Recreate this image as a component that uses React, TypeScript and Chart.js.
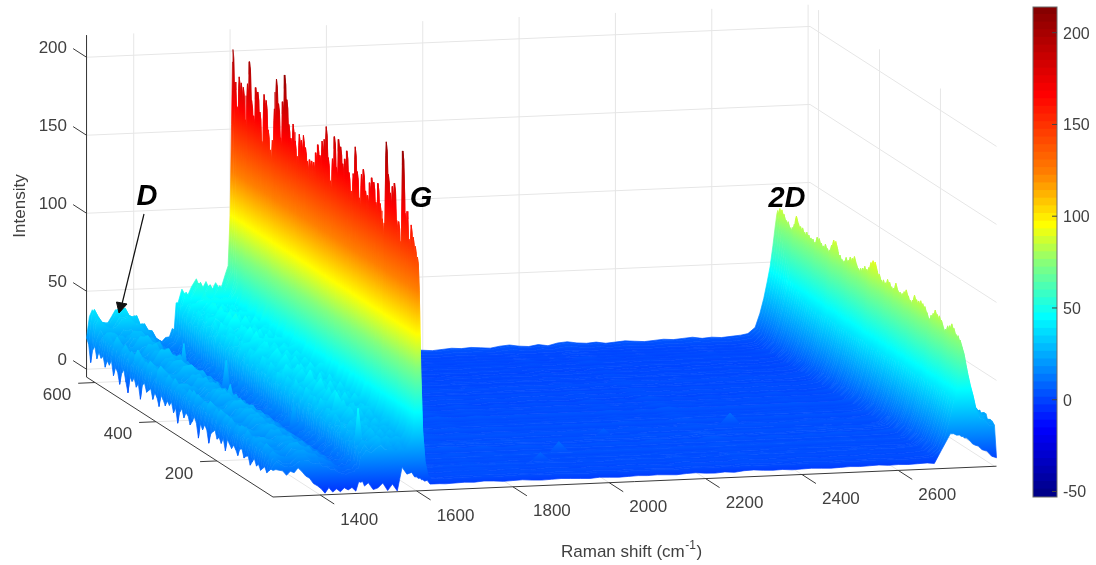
import React, { useEffect, useRef } from "react";
import { Chart, registerables } from "chart.js";

Chart.register(...registerables);

// ---- axis ticks -------------------------------------------------------
const SHIFT_TICKS = [1400, 1600, 1800, 2000, 2200, 2400, 2600];
const SHIFT_GRID_TICKS = [1400, 1600, 1800, 2000, 2200, 2400, 2600, 2800];
const DEPTH_TICKS = [200, 400, 600];
const Z_TICKS = [0, 50, 100, 150, 200];
const BAR_TICKS = [-50, 0, 50, 100, 150, 200];
const SHIFT_MIN = 1302, SHIFT_MAX = 2804, DEPTH_MIN = 16, DEPTH_MAX = 628, Z_MIN = -5, Z_MAX = 214;
const BAR_MIN = -53, BAR_MAX = 214;

// ---- Raman shift samples of every spectrum -----------------------------
const shifts = [
  1302, 1308, 1314, 1322, 1330, 1338, 1346, 1354, 1362, 1370, 1378, 1386, 1394, 1402, 1410, 1418, 1426, 1434, 1442, 1450, 1458, 1466, 1474, 1480, 1484,
  1488, 1492, 1500, 1510, 1520, 1530, 1540, 1550, 1560, 1570, 1580, 1590, 1596, 1600, 1603, 1605, 1606, 1608, 1610, 1613, 1617, 1622, 1628, 1636, 1648,
  1660, 1680, 1700, 1720, 1740, 1760, 1780, 1800, 1820, 1840, 1860, 1880, 1900, 1920, 1940, 1960, 1980, 2000, 2020, 2040, 2060, 2080, 2100, 2120, 2140,
  2160, 2180, 2200, 2220, 2240, 2260, 2280, 2300, 2320, 2340, 2360, 2380, 2400, 2420, 2440, 2460, 2480, 2500, 2520, 2540, 2560, 2580, 2600, 2620, 2640, 2660,
  2675, 2690, 2700, 2708, 2715, 2721, 2727, 2731, 2735, 2737, 2741, 2745, 2749, 2754, 2760, 2766, 2774, 2784, 2794, 2804,
];
// small ripple along the shift axis, read from the rear edge of the surface
const ripple = [
  0, 1, 2, -1, -3, -2, -2, 2, 3, 1, 2, -1, 0, 2, -2, 1, -1, 1, -1, 0, 1, 2, -1, 1, 0,
  2, -3, 3, -4, 2, 6, -2, 4, -3, 3, -2, 4, 0, 0, 0, 0, 0, 0, 0, 0, 0, 1, 0, 1, 1,
  0.5, 1, 1.5, 1, 2, 1.5, 0.5, 1, 1.5, 0.5, 0, 0.5, 1, 0.5, 0, -0.5, 0.5, 0, -0.5, 0, 0.5, 0, 0.5, 0, -0.5,
  0.5, 1, 0, -0.5, 0.5, -0.5, 1, 1.5, 0.5, 0, 0.5, -0.5, 0, 0.5, 0, -0.5, 0, 0.5, 0, 0.5, 1, 0, 0.5, 0, 0.5, 1,
  1, 0, 1, 0, 0, 0, 0, 0, 0, 0, 0, 0, 0, 0, 0, 1, 0, 2, -1, 3,
];
// how strongly the ripple shows in each spectrum
const rippleGain = [
  1, 1, 0.9, 0.4, 1.1, 0.2, 0.8, -0.5, 0.6, 1, -0.3, 0.5, 0.9, 0.1, -0.6, 0.7, 1.1, 0.2, -0.4, 0.8, 0.4, -0.7, 1, 0.3, 0.6, -0.2, 0.9, -0.5, 0.4, 1,
  0.1, 0.7, -0.6, 0.5, 1.1, -0.3, 0.3, 0.8, -0.4, 0.6, 1, 0.2, -0.5, 0.7, 0.4, 0.9, -0.2, 0.5, -0.7, 1, 0.3, 0.6, -0.4, 0.8, 0.1, 1.1, -0.3, 0.5, 0.7, -0.6,
  0.9, 0.2, 0.4, -0.5, 1, 0.6, -0.2, 0.8, 0.3, -0.7, 0.5, 1, 0.1, -0.4, 0.7, 0.9, -0.3, 0.4, 0.6, -0.5, 1, 0.2, 0.7, -0.2, 0.5, 0.9, -0.4, 0.3, 0.6, 0.4,
];

// ---- band heights along the depth axis, rear spectrum first --------------
const gTop = [
  198, 178, 164, 185, 183, 180, 161, 184, 200, 175, 167, 185, 183, 172, 153, 184, 182, 164, 151, 158, 180, 199, 184, 163, 188, 205, 190, 175, 166, 177,
  167, 159, 173, 169, 174, 167, 158, 161, 162, 161, 167, 174, 168, 177, 180, 188, 170, 156, 170, 184, 167, 185, 182, 171, 175, 182, 168, 156, 170, 187,
  172, 157, 171, 176, 164, 161, 169, 174, 172, 161, 173, 160, 152, 151, 203, 183, 171, 178, 180, 157, 158, 145, 204, 166, 167, 151, 161, 153, 149, 143,
];
const twoDTop = [
  80, 82, 83, 82, 80, 79, 77, 77, 81, 86, 83, 81, 81, 80, 80, 79, 79, 79, 77, 81, 82, 79, 78, 80, 79, 78, 82, 86, 85, 80,
  79, 78, 77, 79, 79, 82, 81, 84, 81, 78, 78, 80, 82, 80, 83, 86, 89, 89, 83, 81, 80, 80, 80, 82, 81, 80, 79, 82, 80, 79,
  79, 82, 82, 80, 79, 79, 82, 81, 81, 83, 81, 79, 77, 75, 77, 79, 81, 81, 80, 78, 75, 74, 77, 79, 80, 79, 76, 75, 74, 70,
];
const dBand = [
  33, 34, 31, 33, 26, 23, 25, 29, 27, 24, 26, 23, 28, 25, 22, 24, 27, 26, 23, 25, 21, 24, 28, 23, 26, 22, 24, 21, 26, 23,
  25, 20, 23, 27, 22, 24, 21, 25, 23, 20, 24, 22, 26, 21, 23, 19, 22, 25, 21, 23, 20, 24, 21, 19, 23, 22, 20, 24, 21, 19,
  22, 20, 23, 18, 21, 23, 19, 22, 20, 18, 21, 19, 23, 20, 18, 21, 19, 17, 20, 22, 18, 20, 17, 19, 21, 18, 16, 19, 17, 15,
];
const shoulder = [
  46, 44, 47, 42, 43, 45, 41, 40, 43, 40, 42, 39, 41, 44, 40, 38, 41, 39, 40, 43, 38, 40, 37, 41, 39, 36, 40, 38, 35, 39,
  41, 37, 34, 38, 36, 40, 35, 33, 37, 39, 34, 36, 33, 37, 35, 32, 36, 34, 38, 33, 31, 35, 33, 30, 34, 36, 31, 33, 30, 32,
  35, 29, 32, 30, 33, 28, 31, 34, 29, 27, 31, 29, 32, 27, 30, 28, 26, 29, 27, 29, 25, 27, 25, 24, 26, 24, 23, 25, 23, 21,
];
const leftEdge = [
  20, 17, 6, 15, 18, 11, 16, 13, 15, 9, 14, 12, 16, 7, 13, 11, 4, 12, 15, 8, 2, 13, 11, 14, 9, 12, 3, 13, 15, 10,
  12, 14, 8, 13, 11, 6, 14, 12, 9, 13, 11, 14, 8, 12, 3, 11, 14, 9, 13, 12, 7, 10, 14, 11, 2, 12, 9, 13, 11, 3,
  10, 12, 14, 9, 11, 8, 12, 5, 13, 11, 9, 12, 10, 7, 12, 13, 8, 10, 11, 6, 9, 12, 8, 10, 7, 9, 11, 8, 10, 12,
];
const baseLevel = [
  3, 3, 2, 1, 0, 1, 0, 1, 0, 1, 0, 1, 1, 0, 1, 1, 0, 0, 1, 1, 0, 1, 1, 1, 0, 1, 1, 1, 2, 1,
  1, 0, 1, 2, 1, 1, 2, 1, 0, 1, 2, 1, 1, 2, 1, 2, 1, 1, 2, 3, 1, 2, 1, 2, 2, 1, 2, 3, 1, 2,
  2, 1, 3, 2, 1, 2, 3, 2, 2, 1, 2, 3, 2, 1, 2, 2, 3, 1, 2, 2, 1, 2, 2, 1, 2, 1, 1, 2, 1, 1,
];

// ---- band shapes across the shift axis: [shift, weight] -------------------
const edgeShape: number[][] = [[1302, 1]];
const dShape: number[][] = [
  [1308, 0.9], [1314, 1], [1322, 0.95], [1330, 0.9], [1338, 0.85], [1346, 0.85], [1354, 0.85], [1362, 0.95], [1370, 1], [1378, 1], [1386, 0.95], [1394, 0.88],
  [1402, 0.85], [1410, 0.78], [1418, 0.72], [1426, 0.65], [1434, 0.58], [1442, 0.5], [1450, 0.42], [1458, 0.35], [1466, 0.4], [1474, 0.5], [1480, 0.6], [1484, 0.6], [1488, 0.2], [1492, 0.1],
];
const shoulderShape: number[][] = [
  [1488, 0.62], [1492, 0.8], [1500, 0.93], [1510, 0.96], [1520, 0.98], [1530, 1], [1540, 1], [1550, 1], [1560, 1], [1570, 1], [1580, 1], [1590, 1], [1596, 0.95], [1600, 0.7], [1603, 0.25], [1605, 0.04],
];
const gShape: number[][] = [
  [1590, 0.02], [1596, 0.08], [1600, 0.3], [1603, 0.7], [1605, 0.95], [1606, 1], [1608, 0.97], [1610, 0.85], [1613, 0.5], [1617, 0.22], [1622, 0.08], [1628, 0.02],
];
const twoDShape: number[][] = [
  [2675, 0.01], [2690, 0.07], [2700, 0.17], [2708, 0.3], [2715, 0.43], [2721, 0.55], [2727, 0.72], [2731, 0.85], [2735, 0.97], [2737, 1], [2741, 0.94], [2745, 0.84], [2749, 0.75],
  [2754, 0.65], [2760, 0.55], [2766, 0.42], [2774, 0.35], [2784, 0.32], [2794, 0.28], [2804, 0.26],
];
// the front spectrum, read from the lower edge of the surface: [shift, intensity]
const frontSpectrum: number[][] = [
  [1302, 12], [1308, 12], [1314, 11], [1322, 12], [1330, 10], [1338, 12], [1346, 11], [1354, 12], [1362, 9], [1370, 7], [1378, 5], [1386, 3], [1394, 1], [1402, -2], [1410, -3], [1418, -1],
  [1426, -3], [1434, -2], [1442, -3], [1450, -1], [1458, -3], [1466, -2], [1474, -3], [1480, 2], [1484, 2], [1488, 1.5], [1492, 1], [1500, 0], [1510, -1], [1520, -3], [1530, -2], [1540, -3],
  [1550, -2], [1560, -3], [1570, 9], [1580, 7], [1590, 5], [1596, 4], [1600, 4], [1603, 3], [1605, 3], [1606, 3], [1608, 3], [1610, 2], [1613, 2], [1617, 1], [1622, 1], [1628, -1],
  [2675, -2], [2690, 7], [2700, 12], [2708, 17], [2715, 17], [2721, 16], [2727, 16], [2731, 15], [2735, 15], [2737, 14], [2741, 14], [2745, 13], [2749, 12], [2754, 10], [2760, 9], [2766, 8],
  [2774, 6], [2784, 4], [2794, 2], [2804, -1],
];
// isolated spikes: [spectrum, shift, intensity]
const spikes: number[][] = [
  [33, 1450, 32], [85, 1500, 45], [60, 1474, 26], [70, 1520, 42], [20, 1418, 32], [48, 1394, 30],
  [75, 1960, 9], [60, 2380, 9], [80, 1900, 7], [64, 2100, 6], [40, 1800, 6],
];

// ---- colour map stops -----------------------------------------------------
const cmapValues = [-53, -16, 14, 45, 73, 95, 123, 166, 214];
const cmapColors = [
  [0, 0, 130], [0, 0, 255], [0, 128, 255], [0, 255, 255], [128, 255, 128], [255, 255, 0], [255, 128, 0], [255, 0, 0], [128, 0, 0],
];

const RAMP_LEVELS = 64;

const weight = (table: number[][], s: number) => {
  const hit = table.find((e) => e[0] === s);
  return hit ? hit[1] : 0;
};

const cellValue = (row: number, j: number) => {
  const s = shifts[j];
  if (row === gTop.length) {
    const hit = frontSpectrum.find((e) => e[0] === s);
    return (hit ? hit[1] : -1.5) + ripple[j] * 0.5;
  }
  const spike = spikes.find((e) => e[0] === row && e[1] === s);
  if (spike) return spike[2];
  const w = weight(edgeShape, s);
  if (w) return leftEdge[row];
  return (
    baseLevel[row] + ripple[j] * rippleGain[row] +
    dBand[row] * weight(dShape, s) +
    shoulder[row] * weight(shoulderShape, s) +
    gTop[row] * weight(gShape, s) +
    twoDTop[row] * weight(twoDShape, s)
  );
};

// Oblique view of the 3-D box, fitted to the reference's box corners.
const project = (s: number, d: number, z: number) => ({
  x: 273 + 0.4817 * (s - SHIFT_MIN) - 0.3047 * (d - DEPTH_MIN),
  y: 497 - 0.0205 * (s - SHIFT_MIN) - 0.196 * (d - DEPTH_MIN) - 1.56 * (z - Z_MIN),
});

const depthOf = (row: number) => DEPTH_MAX - (row * (DEPTH_MAX - DEPTH_MIN)) / gTop.length;

const colorAt = (z: number) => {
  let k = 0;
  while (k < cmapValues.length - 2 && z > cmapValues[k + 1]) k++;
  const t = Math.max(0, Math.min(1, (z - cmapValues[k]) / (cmapValues[k + 1] - cmapValues[k])));
  const a = cmapColors[k], b = cmapColors[k + 1];
  return `rgb(${a.map((v, i) => Math.round(v + (b[i] - v) * t)).join(",")})`;
};

const line = (points: { x: number; y: number }[], color: string, width: number, order: number) => ({
  data: points, borderColor: color, borderWidth: width, showLine: true, pointRadius: 0, fill: false, order,
});

const buildDatasets = () => {
  const sets: any[] = [];
  const GRID = "#e6e6e6", AXIS = "#3a3a3a";
  const gridOrder = 5000, axisOrder = 4000;
  // walls and floor
  SHIFT_GRID_TICKS.forEach((s) => {
    sets.push(line([project(s, DEPTH_MAX, Z_MIN), project(s, DEPTH_MAX, Z_MAX)], GRID, 1, gridOrder));
    sets.push(line([project(s, DEPTH_MAX, Z_MIN), project(s, DEPTH_MIN, Z_MIN)], GRID, 1, gridOrder));
  });
  DEPTH_TICKS.forEach((d) => {
    sets.push(line([project(SHIFT_MAX, d, Z_MIN), project(SHIFT_MAX, d, Z_MAX)], GRID, 1, gridOrder));
    sets.push(line([project(SHIFT_MIN, d, Z_MIN), project(SHIFT_MAX, d, Z_MIN)], GRID, 1, gridOrder));
  });
  Z_TICKS.forEach((z) => {
    sets.push(line([project(SHIFT_MIN, DEPTH_MAX, z), project(SHIFT_MAX, DEPTH_MAX, z), project(SHIFT_MAX, DEPTH_MIN, z)], GRID, 1, gridOrder));
  });
  // axes and ticks
  sets.push(line([project(SHIFT_MIN, DEPTH_MAX, Z_MAX), project(SHIFT_MIN, DEPTH_MAX, Z_MIN), project(SHIFT_MIN, DEPTH_MIN, Z_MIN), project(SHIFT_MAX, DEPTH_MIN, Z_MIN)], AXIS, 1, axisOrder));
  Z_TICKS.forEach((z) => sets.push(line([project(SHIFT_MIN, DEPTH_MAX, z), project(SHIFT_MIN, DEPTH_MAX + 44, z)], AXIS, 1, axisOrder)));
  DEPTH_TICKS.forEach((d) => sets.push(line([project(SHIFT_MIN, d, Z_MIN), project(SHIFT_MIN - 35, d, Z_MIN)], AXIS, 1, axisOrder)));
  SHIFT_TICKS.forEach((s) => sets.push(line([project(s, DEPTH_MIN, Z_MIN), project(s, DEPTH_MIN - 46, Z_MIN)], AXIS, 1, axisOrder)));

  // surface strips, rear to front
  for (let r = 0; r < gTop.length; r++) {
    const dA = depthOf(r), dB = depthOf(r + 1);
    const top = shifts.map((s, j) => project(s, dA, cellValue(r, j)));
    const bottom = shifts.map((s, j) => project(s, dB, cellValue(r + 1, j))).reverse();
    const dm = (dA + dB) / 2;
    let cached: CanvasGradient | null = null;
    const paint = (c: any) => {
      if (cached) return cached;
      const chart = c.chart;
      // the hidden x/y scales span the canvas one to one, so scale values are canvas pixels
      const a = project(SHIFT_MIN, dm, BAR_MIN), b = project(SHIFT_MIN, dm, BAR_MAX);
      const slope = 0.0205 / 0.4817;
      const len = Math.hypot(slope, 1);
      const nx = slope / len, ny = 1 / len;
      const reach = (b.x - a.x) * nx + (b.y - a.y) * ny;
      const g = chart.ctx.createLinearGradient(a.x, a.y, a.x + nx * reach, a.y + ny * reach);
      cmapValues.forEach((v, i) => {
        g.addColorStop((v - BAR_MIN) / (BAR_MAX - BAR_MIN), `rgb(${cmapColors[i].join(",")})`);
      });
      cached = g;
      return g;
    };
    sets.push({
      data: [...top, ...bottom, top[0]],
      showLine: true, pointRadius: 0, fill: "shape", tension: 0,
      backgroundColor: paint, borderColor: paint, borderWidth: 0.7,
      borderJoinStyle: "round",
      order: 3000 - r,
    });
  }

  // D arrow
  sets.push(line([{ x: 144, y: 214 }, { x: 122, y: 304 }], "#111", 1.2, 2));
  sets.push({
    data: [{ x: 119, y: 313 }, { x: 116.5, y: 302 }, { x: 127, y: 304 }, { x: 119, y: 313 }],
    showLine: true, pointRadius: 0, fill: "shape", backgroundColor: "#111", borderColor: "#111", borderWidth: 1, order: 1,
  });
  return sets;
};

const labelPlugin = {
  id: "labels3d",
  afterDraw(chart: any) {
    const { ctx, scales } = chart;
    const X = (v: number) => scales.x.getPixelForValue(v), Y = (v: number) => scales.y.getPixelForValue(v);
    ctx.save();
    ctx.fillStyle = "#404040";
    ctx.font = '17px "Liberation Sans"';
    ctx.textBaseline = "middle";
    ctx.textAlign = "right";
    Z_TICKS.forEach((z) => {
      const p = project(SHIFT_MIN, DEPTH_MAX, z);
      ctx.fillText(String(z), X(67), Y(p.y - 9));
    });
    ctx.textAlign = "center";
    DEPTH_TICKS.forEach((d) => {
      const p = project(SHIFT_MIN, d, Z_MIN);
      ctx.fillText(String(d), X(p.x - 38), Y(p.y + 13));
    });
    SHIFT_TICKS.forEach((s) => {
      const p = project(s, DEPTH_MIN, Z_MIN);
      ctx.fillText(String(s), X(p.x + 39), Y(p.y + 25));
    });
    // x title with a raised exponent
    ctx.textAlign = "left";
    ctx.fillText("Raman shift (cm", X(561), Y(552));
    const headWidth = ctx.measureText("Raman shift (cm").width;
    ctx.font = '12px "Liberation Sans"';
    ctx.fillText("-1", X(561) + headWidth + 0.5, Y(546));
    const expWidth = ctx.measureText("-1").width;
    ctx.font = '17px "Liberation Sans"';
    ctx.fillText(")", X(561) + headWidth + expWidth + 1, Y(552));
    ctx.textAlign = "center";
    ctx.save();
    ctx.translate(X(20), Y(206));
    ctx.rotate(-Math.PI / 2);
    ctx.fillText("Intensity", 0, 0);
    ctx.restore();
    ctx.fillStyle = "#000";
    ctx.font = 'italic bold 29px "Liberation Sans"';
    ctx.fillText("D", X(147), Y(197));
    ctx.fillText("G", X(421), Y(199));
    ctx.fillText("2D", X(787), Y(199));
    ctx.restore();
  },
};

const barFramePlugin = {
  id: "barFrame",
  afterDraw(chart: any) {
    const { ctx, chartArea: a, scales } = chart;
    ctx.save();
    ctx.strokeStyle = "#6a6a6a";
    ctx.lineWidth = 1;
    ctx.strokeRect(a.left, a.top, a.right - a.left, a.bottom - a.top);
    ctx.strokeStyle = "#444";
    BAR_TICKS.forEach((v) => {
      const y = scales.y.getPixelForValue(v);
      ctx.beginPath();
      ctx.moveTo(a.right, y);
      ctx.lineTo(a.right - 5, y);
      ctx.stroke();
    });
    ctx.restore();
  },
};

export default function App() {
  const mainRef = useRef<HTMLCanvasElement>(null);
  const barRef = useRef<HTMLCanvasElement>(null);

  useEffect(() => {
    const main = new Chart(mainRef.current as any, {
      type: "scatter",
      data: { datasets: buildDatasets() },
      options: {
        animation: false,
        responsive: false,
        events: [],
        layout: { padding: 0 },
        plugins: { legend: { display: false }, tooltip: { enabled: false } },
        scales: {
          x: { type: "linear", min: 0, max: 1096, display: false },
          y: { type: "linear", min: 0, max: 565, reverse: true, display: false },
        },
      },
      plugins: [labelPlugin],
    } as any);

    const levels = Array.from({ length: RAMP_LEVELS }, (_, i) => i);
    const step = (BAR_MAX - BAR_MIN) / RAMP_LEVELS;
    const bar = new Chart(barRef.current as any, {
      type: "bar",
      data: {
        labels: ["c"],
        datasets: levels.map((i) => ({
          data: [[BAR_MIN + i * step, BAR_MIN + (i + 1) * step + 0.2]],
          backgroundColor: colorAt(BAR_MIN + (i + 0.5) * step),
          borderWidth: 0,
          categoryPercentage: 1,
          barPercentage: 1,
        })),
      },
      options: {
        animation: false,
        responsive: false,
        events: [],
        layout: { padding: { left: 13, top: 7, bottom: 68, right: 0 } },
        plugins: { legend: { display: false }, tooltip: { enabled: false } },
        scales: {
          x: { stacked: true, display: false },
          y: {
            position: "right",
            min: BAR_MIN,
            max: BAR_MAX,
            afterFit: (s: any) => { s.width = 39; s.paddingTop = 0; s.paddingBottom = 0; },
            afterBuildTicks: (s: any) => { s.ticks = BAR_TICKS.map((value) => ({ value })); },
            border: { display: false },
            grid: { display: false, drawTicks: false },
            ticks: {
              autoSkip: false,
              padding: 6,
              labelOffset: 1.5,
              color: "#404040",
              font: { family: "Liberation Sans", size: 16 },
            },
          },
        },
      },
      plugins: [barFramePlugin],
    } as any);

    return () => {
      main.destroy();
      bar.destroy();
    };
  }, []);

  return (
    <div style={{ position: "fixed", left: 0, top: 0, width: 1096, height: 565, background: "#fff" }}>
      <canvas ref={mainRef} width={1096} height={565} style={{ position: "absolute", left: 0, top: 0 }} />
      <canvas ref={barRef} width={76} height={565} style={{ position: "absolute", left: 1020, top: 0 }} />
    </div>
  );
}
